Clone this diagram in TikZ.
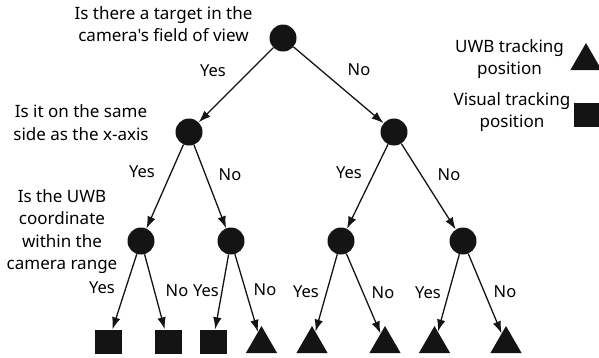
\documentclass[tikz,border=0pt]{standalone}
\usepackage{fontspec}
\setmainfont{Noto Sans}[Ligatures=TeXOff]
\usepackage{tikz}
\usetikzlibrary{arrows.meta,shapes.geometric}
\definecolor{ink}{HTML}{141414}

\begin{document}
\begin{tikzpicture}[x=1pt,y=-1pt,>={Latex[length=12pt,width=8.5pt]},
    decision/.style={circle,fill=ink,minimum size=27pt,inner sep=0pt},
    visleaf/.style={rectangle,fill=ink,minimum width=27pt,minimum height=24pt,inner sep=0pt},
    uwbleaf/.style={regular polygon,regular polygon sides=3,fill=ink,minimum size=36pt,inner sep=0pt},
    branch/.style={->,line width=1.3pt,draw=ink},
    ans/.style={font=\fontsize{16.5}{18}\selectfont,inner sep=0pt},
    question/.style={font=\fontsize{17}{22.5}\selectfont,align=center,inner sep=0pt}]
        \useasboundingbox (0,0) rectangle (599,357);
        % decision points
        \node[decision] (root) at (283,38) {};
        \node[decision] (l) at (189,132) {};
        \node[decision] (r) at (394,132) {};
        \node[decision] (ll) at (141,241) {};
        \node[decision] (lr) at (231,241) {};
        \node[decision] (rl) at (341,241) {};
        \node[decision] (rr) at (463,241) {};
        % leaves
        \node[visleaf] (lll) at (108.5,341.5) {};
        \node[visleaf] (llr) at (168,341.5) {};
        \node[visleaf] (lrl) at (213,341.5) {};
        \node[uwbleaf] (lrr) at (261.5,344) {};
        \node[uwbleaf] (rll) at (312,344) {};
        \node[uwbleaf] (rlr) at (385,344) {};
        \node[uwbleaf] (rrl) at (434.5,344) {};
        \node[uwbleaf] (rrr) at (506,344) {};
        % questions
        \node[question] (qroot) at (163.5,24) {Is there a target in the\\camera's field of view};
        \node[question] (qside) at (81,122.5) {Is it on the same\\side as the x-axis};
        \node[question] (qcam) at (62,231.5) {Is the UWB\\coordinate\\within the\\camera range};
        % legend
        \node[question] (uwbtext) at (509.5,59) {UWB tracking\\position};
        \node[question] (vistext) at (512,112) {Visual tracking\\position};
        \node[uwbleaf] (uwbkey) at (586,61) {};
        \node[visleaf] (viskey) at (587,114.5) {};
        % branches
        \draw[branch] (root) -- (l);
        \draw[branch] (root) -- (r);
        \draw[branch] (l) -- (ll);
        \draw[branch] (l) -- (lr);
        \draw[branch] (r) -- (rl);
        \draw[branch] (r) -- (rr);
        \draw[branch] (ll) -- (lll);
        \draw[branch] (ll) -- (llr);
        \draw[branch] (lr) -- (lrl);
        \draw[branch] (lr) -- (lrr);
        \draw[branch] (rl) -- (rll);
        \draw[branch] (rl) -- (rlr);
        \draw[branch] (rr) -- (rrl);
        \draw[branch] (rr) -- (rrr);
        % answers
        \node[ans] (a1) at (213,71) {Yes};
        \node[ans] (a2) at (359,70) {No};
        \node[ans] (a3) at (142,172) {Yes};
        \node[ans] (a4) at (230,175) {No};
        \node[ans] (a5) at (349,173) {Yes};
        \node[ans] (a6) at (449,175) {No};
        \node[ans] (a7) at (102,288) {Yes};
        \node[ans] (a8) at (177,291) {No};
        \node[ans] (a9) at (206,291) {Yes};
        \node[ans] (a10) at (265,290) {No};
        \node[ans] (a11) at (306,292) {Yes};
        \node[ans] (a12) at (383,293) {No};
        \node[ans] (a13) at (428,293) {Yes};
        \node[ans] (a14) at (505,292) {No};
      \end{tikzpicture}
\end{document}
